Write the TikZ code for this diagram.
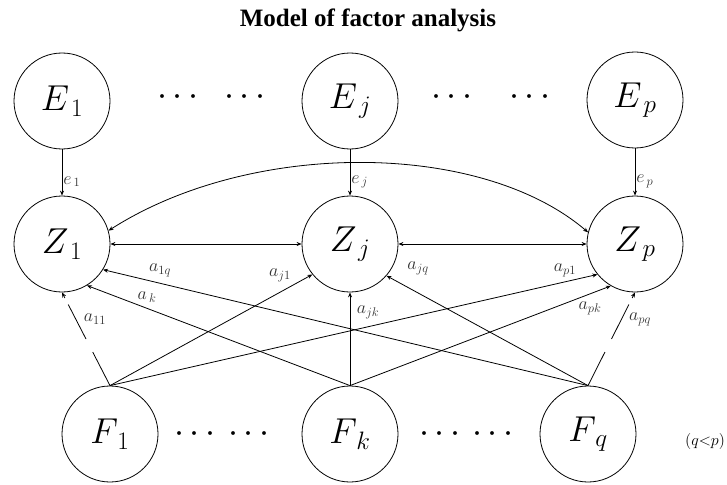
\RequirePackage{fix-cm}
\documentclass[tikz,border=0pt]{standalone}
\usepackage{fontspec}
\setmainfont{Liberation Serif}
\usetikzlibrary{arrows.meta,calc}

\begin{document}
\begin{tikzpicture}[x=1pt,y=-1pt,
  >={Stealth[length=5pt,width=4pt]},
  var/.style={circle,draw,line width=0.8pt,minimum size=96pt,inner sep=0pt,
    font=\fontsize{36}{40}\selectfont},
  coef/.style={font=\fontsize{18}{20}\selectfont,text=black!80,inner sep=1pt},
  dots/.style={font=\fontsize{36}{40}\selectfont,inner sep=0pt},
  line/.style={line width=0.8pt},
  link/.style={line,->}]

\useasboundingbox (0,0) rectangle (727,484);

%%% --- Title --- %%%
\node[font=\bfseries\fontsize{25}{30}\selectfont,anchor=base] (title) at (368,27)
  {Model of factor analysis};

%%% --- Error terms E --- %%%
\node[var] (E1) at (62,101) {$E_{\,1}$};
\node[var] (Ej) at (350,101) {$E_{\,j}$};
\node[var] (Ep) at (635,100) {$E_{\,p}$};

\foreach \x/\n in {178/ed1,245/ed2,452/ed3,530/ed4}
  \node[dots] (\n) at (\x,98) {$\cdots$};

%%% --- Observed variables Z --- %%%
\node[var] (Z1) at (62,244) {$Z_{\,1}$};
\node[var] (Zj) at (350,244) {$Z_{\,j}$};
\node[var] (Zp) at (635,244) {$Z_{\,p}$};

%%% --- Common factors F --- %%%
\node[var] (F1) at (110,434) {$F_{\,1}$};
\node[var] (Fk) at (350,434) {$F_{\,k}$};
\node[var] (Fq) at (588,434) {$F_{\,q}$};

\foreach \x/\n in {195/fd1,249/fd2,440/fd3,493/fd4}
  \node[dots] (\n) at (\x,434) {$\cdots$};

\node[font=\fontsize{16}{18}\selectfont,anchor=west,inner sep=0pt] (cond) at (685,441)
  {$(q{<}p)$};

%%% --- E to Z --- %%%
\foreach \i in {1,j,p}
  \draw[link] (E\i) -- (Z\i) node[coef,right,pos=0.7] {$e_{\,\i}$};

% correlations between the Z
\draw[link,<->] (Z1) -- (Zj);
\draw[link,<->] (Zj) -- (Zp);
\draw[link,<->] (Z1.16) .. controls (250,140) and (480,140) .. (Zp.166);

%%% --- Loadings F to Z --- %%%
% broken lines F1 -> Z1 and Fq -> Zp
\foreach \f/\z in {F1/Z1.south,Fq/Zp.south} {
  \draw[line] (\f.north) -- ($(\f.north)!0.36!(\z)$)
    ($(\f.north)!0.50!(\z)$) -- ($(\f.north)!0.87!(\z)$);
  \draw[link] ($(\f.north)!0.94!(\z)$) -- (\z);
}
\draw[link] (F1.north) -- (Zj.219);
\draw[link] (F1.north) -- (Zp.219);
\draw[link] (Fk.north) -- (Z1.301);
\draw[link] (Fk.north) -- (Zj.south);
\draw[link] (Fk.north) -- (Zp.240);
\draw[link] (Fq.north) -- (Z1.328);
\draw[link] (Fq.north) -- (Zj.319);

\node[coef] (a1q) at (160,270) {$a_{1q}$};
\node[coef] (a1k) at (147,297) {$a_{\,k}$};
\node[coef] (a11) at (95,319)  {$a_{11}$};
\node[coef] (aj1) at (280,275) {$a_{j1}$};
\node[coef] (ajk) at (368,312) {$a_{jk}$};
\node[coef] (ajq) at (418,268) {$a_{jq}$};
\node[coef] (ap1) at (565,270) {$a_{p1}$};
\node[coef] (apk) at (590,308) {$a_{pk}$};
\node[coef] (apq) at (640,319) {$a_{pq}$};

\end{tikzpicture}
\end{document}
